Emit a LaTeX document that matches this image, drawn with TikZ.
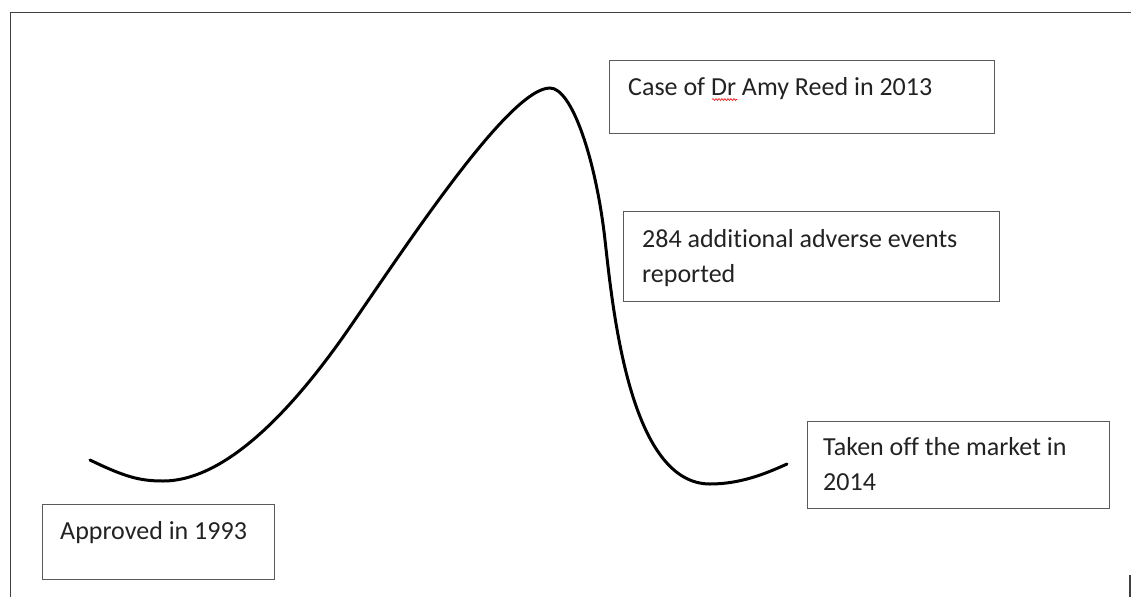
\documentclass[tikz,border=0pt]{standalone}
\usepackage{fontspec}
\setmainfont[Ligatures={NoCommon,NoRequired,NoContextual}]{Carlito}
\usetikzlibrary{calc,decorations.pathmorphing}
\definecolor{framecol}{HTML}{404040}
\definecolor{boxcol}{HTML}{5A5A5A}
\definecolor{txtcol}{HTML}{222222}
\tikzset{
  box/.style={draw=boxcol, line width=1.2pt, rectangle, inner sep=0pt, anchor=north west},
  lbl/.style={anchor=base west, inner sep=0pt, text=txtcol, font=\fontsize{26}{35}\selectfont},
  frameline/.style={draw=framecol, line width=1.6pt},
  curve/.style={line width=3pt, black, line cap=round}
}
\begin{document}
\begin{tikzpicture}[x=1pt,y=-1pt]
\useasboundingbox (0,0) rectangle (1131,597);
% frame
\coordinate (fl) at (10.5,597);
\coordinate (ftl) at (10.5,12.5);
\coordinate (ftr) at (1131,12.5);
\draw[frameline] (fl) -- (ftl) -- (ftr);
\coordinate (rs1) at (1130,575);
\coordinate (rs2) at (1130,597);
\draw[frameline] (rs1) -- (rs2);
% boxes
\node[box, minimum width=232, minimum height=75] (b1) at (42,504) {};
\node[box, minimum width=385, minimum height=73] (b2) at (609,60) {};
\node[box, minimum width=376, minimum height=90] (b3) at (623,211) {};
\node[box, minimum width=302, minimum height=87] (b4) at (807,421) {};
% texts
\node[lbl] (t1) at ($(b1.north west)+(18,35)$) {Approved in 1993};
\node[lbl] (t2) at ($(b2.north west)+(19,35)$) {Case of Dr Amy Reed in 2013};
\node[lbl] (t3a) at ($(b3.north west)+(19,36)$) {284 additional adverse events};
\node[lbl] (t3b) at ($(b3.north west)+(19,71)$) {reported};
\node[lbl] (t4a) at ($(b4.north west)+(16,34)$) {Taken off the market in};
\node[lbl] (t4b) at ($(b4.north west)+(16,69)$) {2014};
% spell-check squiggle under "Dr"
\coordinate (sq1) at (712,99.5);
\coordinate (sq2) at (737,99.5);
\draw[red, line width=0.6pt, decorate, decoration={snake, amplitude=0.9pt, segment length=3pt}] (sq1) -- (sq2);
% curve
\coordinate (c0) at (90,460);
\coordinate (c1) at (163,481);
\coordinate (c2) at (350,327);
\coordinate (c3) at (550,88);
\coordinate (c4) at (605,240);
\coordinate (c5) at (710,484);
\coordinate (c6) at (787,464);
\draw[curve] (c0) .. controls (125,477) and (140,481) .. (c1)
  .. controls (230,481) and (300,399.5) .. (c2)
  .. controls (410,240) and (510,88) .. (c3)
  .. controls (572,88) and (596,160) .. (c4)
  .. controls (613,311) and (630,484) .. (c5)
  .. controls (740,484) and (765,474) .. (c6);
\end{tikzpicture}
\end{document}
